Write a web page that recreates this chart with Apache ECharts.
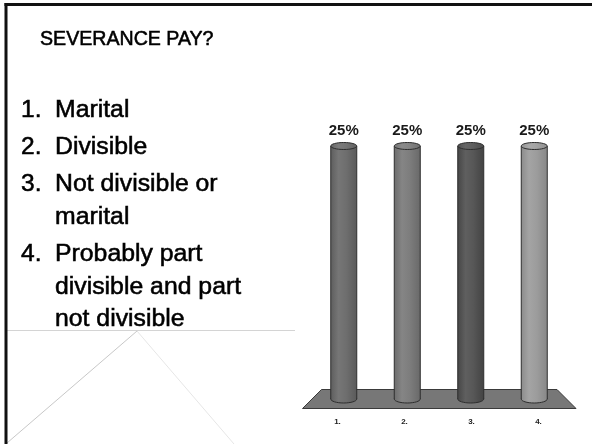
<!DOCTYPE html>
<html>
<head>
<meta charset="utf-8">
<script src="https://cdn.jsdelivr.net/npm/echarts@6/dist/echarts.min.js"></script>
<style>
  html, body { margin: 0; padding: 0; background: #ffffff; }
  #chart { width: 592px; height: 444px; }
</style>
</head>
<body>
<div id="chart"></div>
<script>
// Slide content
const slideTitle = 'SEVERANCE PAY?';
const answerNumbers = ['1.', '2.', '3.', '4.'];
const answerLines = [
  ['Marital'],
  ['Divisible'],
  ['Not divisible or', 'marital'],
  ['Probably part', 'divisible and part', 'not divisible']
];

// Poll results
const categories = ['1.', '2.', '3.', '4.'];
const percentages = [25, 25, 25, 25];

// Styling
const FONT = '"Liberation Sans", Arial, sans-serif';
const barColors = ['#6c6c6c', '#7b7b7b', '#555555', '#9a9a9a'];
const BAR_W = 26;
const TOP_RY = 3.5;
const BOT_RY = 4;

function shade(hex, amt) {
  const n = parseInt(hex.slice(1), 16);
  const f = c => Math.max(0, Math.min(255, Math.round(c + amt)));
  const r = f(n >> 16), g = f((n >> 8) & 255), b = f(n & 255);
  return 'rgb(' + r + ',' + g + ',' + b + ')';
}

function cylinderFill(hex, lift) {
  return new echarts.graphic.LinearGradient(0, 0, 1, 0, [
    { offset: 0, color: shade(hex, -14 + lift) },
    { offset: 0.3, color: shade(hex, 10 + lift) },
    { offset: 0.6, color: shade(hex, 2 + lift) },
    { offset: 1, color: shade(hex, -18 + lift) }
  ]);
}

// Layout of the plot
const barGrid = { left: 312, top: 146, width: 254, height: 253 };
const labelGrid = { left: 304, top: 400, width: 268, height: 10 };
const floorTop = 389.5, floorBottom = 408.5;
const floorTopLeft = 321.5, floorTopRight = 557, floorBotLeft = 302.5, floorBotRight = 576;

// Text block on the left (a thin stroke gives the heavier slide typeface)
function slideText(x, y, text, size) {
  return {
    type: 'text', x: x, y: y, z: 10,
    style: {
      text: text, font: size + 'px ' + FONT, fill: '#000',
      stroke: '#000', lineWidth: 0.55,
      align: 'left', verticalAlign: 'middle'
    }
  };
}

const LINE_STEP = 32.7;   // wrapped line inside one answer
const ITEM_STEP = 37;     // first line of the next answer
const textGraphics = [slideText(40, 40, slideTitle, 19.6)];
let baseline = 119;
answerLines.forEach((lines, i) => {
  textGraphics.push(slideText(21, baseline - 8.5, answerNumbers[i], 24.5));
  lines.forEach((line, j) => {
    textGraphics.push(slideText(55, baseline - 8.5, line, 24.8));
    baseline += (j < lines.length - 1) ? LINE_STEP : ITEM_STEP;
  });
});

const chart = echarts.init(document.getElementById('chart'), null, { renderer: 'canvas' });

chart.setOption({
  animation: false,
  backgroundColor: '#ffffff',
  grid: [
    Object.assign({ containLabel: false }, barGrid),
    Object.assign({ containLabel: false }, labelGrid)
  ],
  xAxis: [
    {
      type: 'category', gridIndex: 0, data: categories,
      axisLine: { show: false }, axisTick: { show: false }, axisLabel: { show: false }, splitLine: { show: false }
    },
    {
      type: 'category', gridIndex: 1, data: categories,
      axisLine: { show: false }, axisTick: { show: false }, splitLine: { show: false },
      axisLabel: { show: true, margin: 8, fontSize: 8, fontWeight: 'bold', fontFamily: FONT, color: '#222' }
    }
  ],
  yAxis: [
    { type: 'value', gridIndex: 0, min: 0, max: 25, show: false },
    { type: 'value', gridIndex: 1, min: 0, max: 1, show: false }
  ],
  graphic: [
    // slide frame
    { type: 'line', z: 20, shape: { x1: 4.5, y1: 4.5, x2: 592, y2: 4.5 }, style: { stroke: '#111', lineWidth: 3 } },
    { type: 'line', z: 20, shape: { x1: 6, y1: 3, x2: 6, y2: 444 }, style: { stroke: '#111', lineWidth: 3 } },
    // decorative guide lines
    { type: 'line', z: 1, shape: { x1: 7, y1: 330.5, x2: 295, y2: 330.5 }, style: { stroke: '#d4d4d4', lineWidth: 1 } },
    { type: 'line', z: 1, shape: { x1: 137, y1: 331, x2: 7, y2: 443 }, style: { stroke: '#c8c8c8', lineWidth: 1 } },
    { type: 'line', z: 1, shape: { x1: 137, y1: 331, x2: 234, y2: 444 }, style: { stroke: '#e6e6e6', lineWidth: 1 } },
    // floor of the 3D plot
    {
      type: 'polygon', z: 1,
      shape: { points: [[floorTopLeft, floorTop], [floorTopRight, floorTop], [floorBotRight, floorBottom], [floorBotLeft, floorBottom]] },
      style: { fill: '#777777', stroke: '#3a3a3a', lineWidth: 1 }
    }
  ].concat(textGraphics),
  series: [
    {
      type: 'custom',
      xAxisIndex: 0, yAxisIndex: 0, z: 5,
      data: categories.map((c, i) => [i, percentages[i]]),
      encode: { x: 0, y: 1 },
      renderItem: function (params, api) {
        const i = params.dataIndex;
        const val = api.value(1);
        const top = api.coord([api.value(0), val]);
        const base = api.coord([api.value(0), 0]);
        const cx = top[0];
        const x0 = cx - BAR_W / 2;
        const color = barColors[i];
        return {
          type: 'group',
          children: [
            {
              type: 'ellipse',
              shape: { cx: cx, cy: base[1], rx: BAR_W / 2, ry: BOT_RY },
              style: { fill: cylinderFill(color, 0), stroke: '#2e2e2e', lineWidth: 1 }
            },
            {
              type: 'rect',
              shape: { x: x0, y: top[1], width: BAR_W, height: base[1] - top[1] },
              style: { fill: cylinderFill(color, 0) }
            },
            {
              type: 'line',
              shape: { x1: x0, y1: top[1], x2: x0, y2: base[1] },
              style: { stroke: '#2e2e2e', lineWidth: 1 }
            },
            {
              type: 'line',
              shape: { x1: x0 + BAR_W, y1: top[1], x2: x0 + BAR_W, y2: base[1] },
              style: { stroke: '#2e2e2e', lineWidth: 1 }
            },
            {
              type: 'ellipse',
              shape: { cx: cx, cy: top[1], rx: BAR_W / 2, ry: TOP_RY },
              style: { fill: cylinderFill(color, 6), stroke: '#2e2e2e', lineWidth: 1 }
            },
            {
              type: 'text',
              x: cx, y: top[1] - 15,
              style: {
                text: val + '%', font: 'bold 15px ' + FONT, fill: '#1a1a1a',
                align: 'center', verticalAlign: 'middle'
              }
            }
          ]
        };
      }
    }
  ]
});
</script>
</body>
</html>
